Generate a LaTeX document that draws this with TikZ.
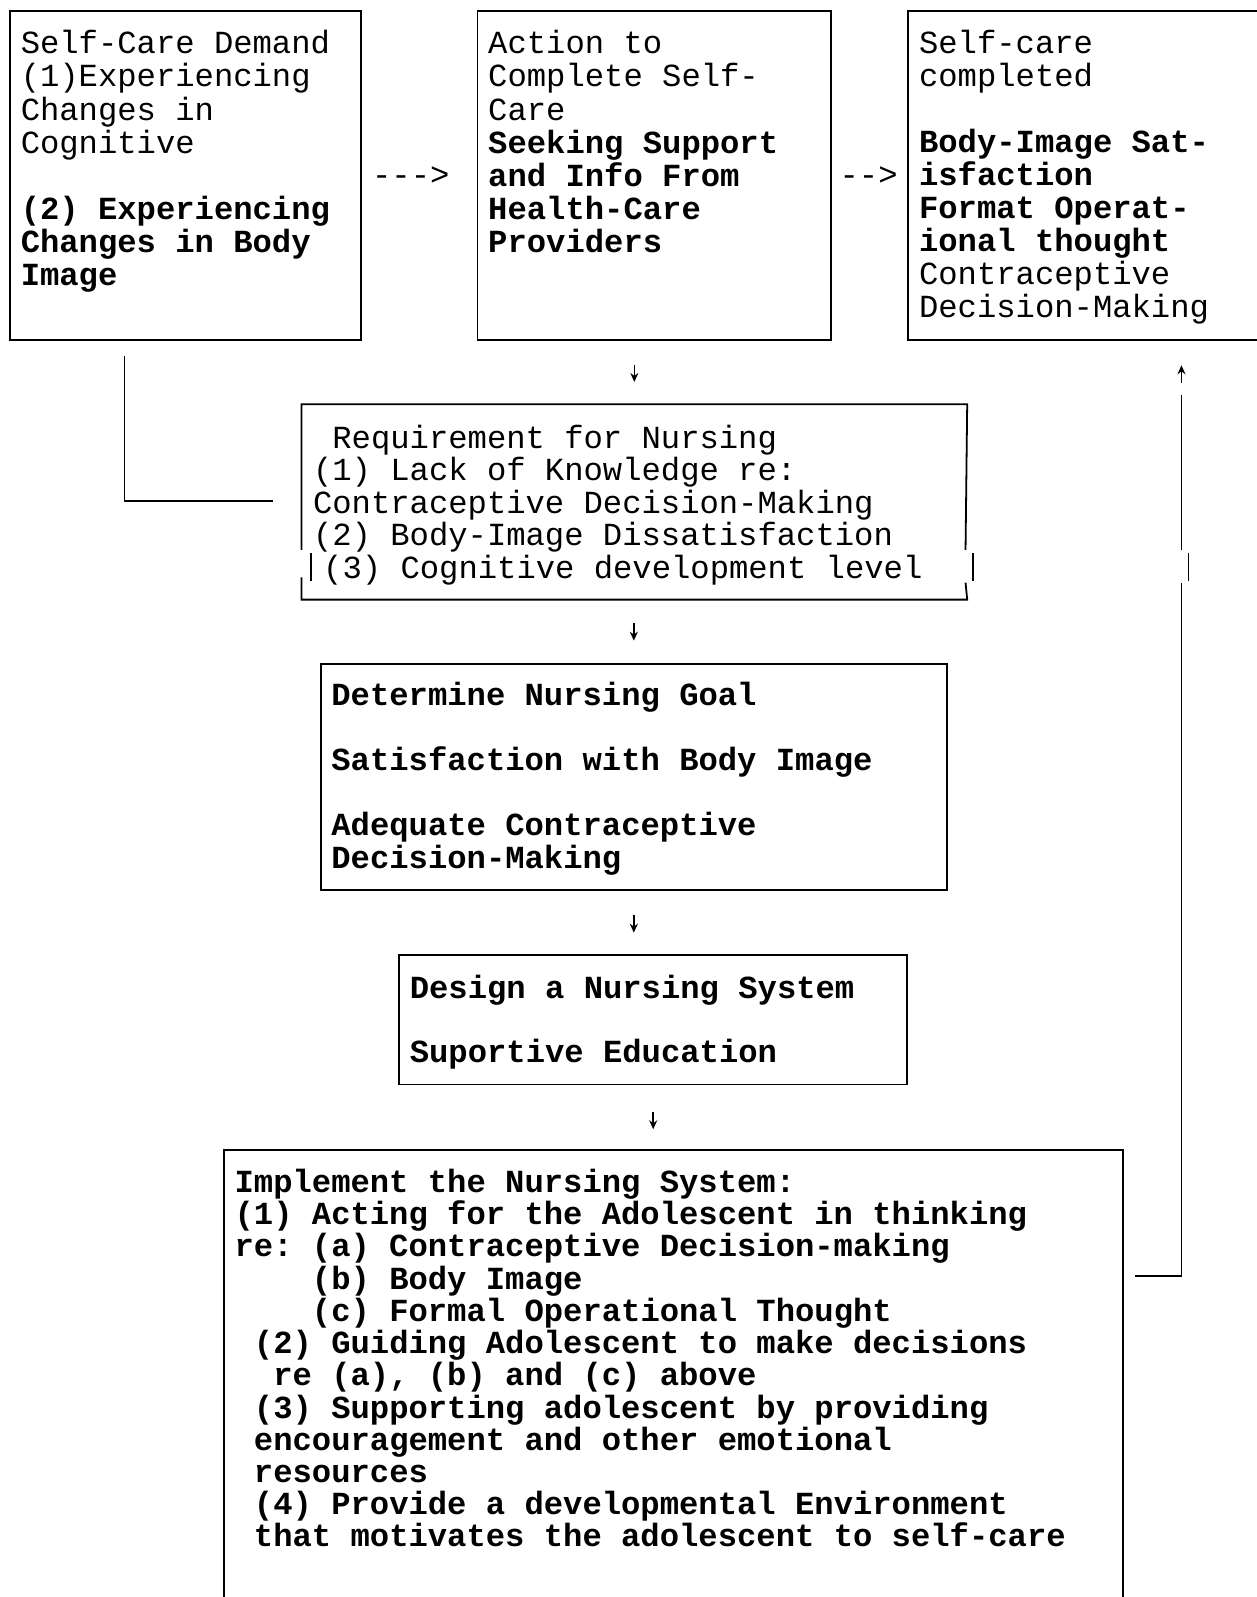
\documentclass[tikz,border=0pt]{standalone}
\usepackage{fontspec}
\setmonofont{Liberation Mono}
\usetikzlibrary{arrows.meta,calc}

\tikzset{
  panel/.style={draw, line width=1pt, anchor=north west, inner xsep=0.21cm, inner ysep=0pt,
    font=\ttfamily\fontsize{18pt}{18.4pt}\selectfont},
  rule/.style={line width=0.8pt},
  tick/.style={line width=0.8pt, -{Stealth[length=5pt,width=4.5pt]}},
  typed/.style={font=\ttfamily\fontsize{18pt}{18.4pt}\selectfont, inner sep=0pt, anchor=base west}
}
\newcommand{\boxlines}[3]{\parbox[t]{#1}{\fontsize{18pt}{#2}\selectfont\raggedright\frenchspacing #3}}

\begin{document}
\begin{tikzpicture}[x=0.02cm, y=-0.02cm]
\fill[white] (0,0) rectangle (1234,1568);
\useasboundingbox (0,0) rectangle (1234,1568);

% Top row: demand, action, completion
\node[panel, text height=0.84cm, text depth=5.62cm] (sd) at (9,10)
  {\boxlines{6.48cm}{18.5pt}{Self-Care Demand\\(1)Experiencing\\Changes in\\Cognitive\\[18.5pt]\textbf{(2) Experiencing}\\\textbf{Changes in Body}\\\textbf{Image}}};
\node[panel, text height=0.84cm, text depth=5.62cm] (act) at (468,10)
  {\boxlines{6.52cm}{18.5pt}{Action to\\Complete Self-\\Care\\\textbf{Seeking Support}\\\textbf{and Info From}\\\textbf{Health-Care}\\\textbf{Providers}}};
\node[panel, text height=0.84cm, text depth=5.62cm] (done) at (891,10)
  {\boxlines{6.50cm}{18.4pt}{Self-care\\completed\\[18.4pt]\textbf{Body-Image Sat-}\\\textbf{isfaction}\\\textbf{Format Operat-}\\\textbf{ional thought}\\Contraceptive\\Decision-Making}};

% Typed arrows between the top boxes
\node[typed] (arrA) at (365,182) {-{}-{}->};
\node[typed] (arrB) at (824,182) {-{}->};

% Requirement for nursing (border drawn by hand below)
\node[panel, draw=none, text height=0.84cm, text depth=2.96cm] (req) at (296,397)
  {\boxlines{12.62cm}{18.2pt}{~Requirement for Nursing\\(1) Lack of Knowledge re:\\Contraceptive Decision-Making\\(2) Body-Image Dissatisfaction\\\hspace*{0.2cm}(3) Cognitive development level}};
\draw[line width=1pt] (296,540) -- (req.north west) -- (req.north east) -- (948,540);
\draw[line width=1pt] (305,543) -- (305,570) (955,543) -- (955,570);
\draw[line width=1pt] (296,567) -- (req.south west) -- (req.south east) -- (948,572);

% Goal and design
\node[panel, text height=0.82cm, text depth=3.62cm] (goal) at (314,651)
  {\boxlines{11.88cm}{18.2pt}{\textbf{Determine Nursing Goal}\\[18.2pt]\textbf{Satisfaction with Body Image}\\[18.2pt]\textbf{Adequate Contraceptive}\\\textbf{Decision-Making}}};
\node[panel, text height=0.84cm, text depth=1.70cm] (design) at (391,937)
  {\boxlines{9.56cm}{17.9pt}{\textbf{Design a Nursing System}\\[17.9pt]\textbf{Suportive Education}}};

% Implementation (open at the bottom)
\node[panel, text height=0.84cm, text depth=8.60cm] (impl) at (219,1128)
  {\boxlines{17.24cm}{18pt}{\bfseries Implement the Nursing System:\\(1) Acting for the Adolescent in thinking\\re: (a) Contraceptive Decision-making\\~~~~(b) Body Image\\~~~~(c) Formal Operational Thought\\~(2) Guiding Adolescent to make decisions\\~~re (a), (b) and (c) above\\~(3) Supporting adolescent by providing\\~encouragement and other emotional\\~resources\\~(4) Provide a developmental Environment\\~that motivates the adolescent to self-care}};

% Demand feeds the requirement
\draw[rule] ($(sd.south west)+(113,15)$) |- ($(req.west)+(-28,-1)$);

% Small down arrows
\draw[tick] ($(req.north)+(0,-39)$) -- ++(0,17);
\draw[tick] ($(goal.north)+(0,-39)$) -- ++(0,17);
\draw[tick] ($(goal.south)+(0,24)$) -- ++(0,17);
\draw[tick] ($(design.south)+(0,26)$) -- ++(0,17);

% Feedback to self-care completed
\draw[rule] ($(impl.north east)+(11,125)$) -| (1160,572);
\draw[rule] (1167,543) -- (1167,570);
\draw[rule] (1160,540) -- (1160,388);
\draw[tick] ($(done.south west)+(269,41)$) -- ++(0,-17);

\end{tikzpicture}
\end{document}
